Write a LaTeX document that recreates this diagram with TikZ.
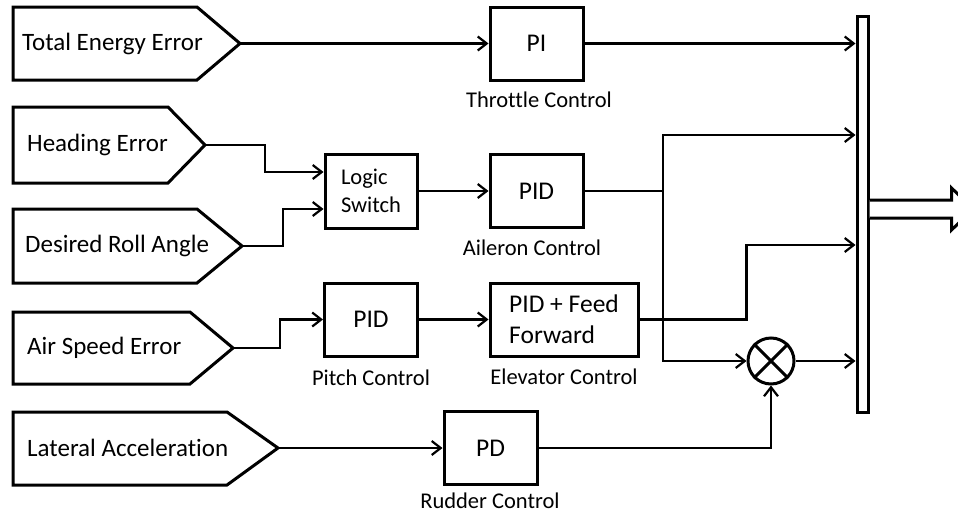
\documentclass[tikz,border=0pt]{standalone}
\usepackage{fontspec}
\setmainfont{Carlito}[Ligatures={NoCommon}]
\usetikzlibrary{arrows.meta}

\begin{document}
\begin{tikzpicture}[x=1pt, y=-1pt, >={Straight Barb[length=9pt,width=14pt]}]
        \tikzstyle{block}=[draw, line width=3pt, minimum width=93pt, minimum height=73pt, font=\fontsize{25.5}{31}\selectfont]
        \tikzstyle{sig}=[draw, line width=3pt]
        \tikzstyle{intext}=[anchor=west, inner sep=0pt, font=\fontsize{25}{30}\selectfont]
        \tikzstyle{caption}=[inner sep=0pt, font=\fontsize{22.5}{27}\selectfont]
        \tikzstyle{wire}=[line width=2.2pt]

        \useasboundingbox (0,0) rectangle (958,514);
        \clip (0,0) rectangle (958,514);

        % input signals
        \draw[sig] (13,7) -- (197,7) -- (240,43.5) -- (197,80) -- (13,80) -- cycle;
        \coordinate (tee) at (240,43.5);
        \node[intext](tee-txt) at (22,43.5){Total Energy Error};

        \draw[sig] (13,107) -- (168,107) -- (205,145) -- (168,183) -- (13,183) -- cycle;
        \coordinate (he) at (205,145);
        \node[intext](he-txt) at (27,145){Heading Error};

        \draw[sig] (13,209) -- (197,209) -- (242,246) -- (197,283) -- (13,283) -- cycle;
        \coordinate (dra) at (242,246);
        \node[intext](dra-txt) at (25,246){Desired Roll Angle};

        \draw[sig] (13,312) -- (190,312) -- (233,348) -- (190,384) -- (13,384) -- cycle;
        \coordinate (ase) at (233,348);
        \node[intext](ase-txt) at (27,348){Air Speed Error};

        \draw[sig] (13,412) -- (227,412) -- (278,448) -- (227,485) -- (13,485) -- cycle;
        \coordinate (lat) at (278,448);
        \node[intext](lat-txt) at (27,448){Lateral Acceleration};

        % controllers
        \node[block](pi) at (536.5,43.5){PI};
        \node[caption](pi-cap) at (539,100){Throttle Control};
        \node[block, minimum width=92pt, minimum height=74pt, align=left, font=\fontsize{22.5}{27.5}\selectfont](sw) at (371,191){Logic\\Switch};
        \node[block](ail) at (536.5,191){PID};
        \node[caption](ail-cap) at (532,248){Aileron Control};
        \node[block](pitch) at (371,319.5){PID};
        \node[caption](pitch-cap) at (371,378){Pitch Control};
        \node[block, minimum width=148pt, align=left](elev) at (564,319.5){PID + Feed\\Forward};
        \node[caption](elev-cap) at (564,377){Elevator Control};
        \node[block](pd) at (490.5,448){PD};
        \node[caption](pd-cap) at (490,501){Rudder Control};

        % product and bus
        \node[draw, circle, line width=3pt, minimum size=46pt, inner sep=0pt](mul) at (771,361){};
        \draw[line width=3pt] (mul.north west) -- (mul.south east) (mul.north east) -- (mul.south west);
        \node[draw, line width=3pt, minimum width=11pt, minimum height=396pt, inner sep=0pt](bus) at (862.5,214){};
        \draw[line width=3pt, fill=white] ([yshift=14pt]bus.east) -- ++(82,0) -- ++(0,-12) -- ++(22,21) -- ++(-22,21) -- ++(0,-12) -- ([yshift=-4pt]bus.east);

        \coordinate (split) at (663,191);

        \draw[wire,->] (tee) -- (pi);
        \draw[wire,->] (pi) -- (pi -| bus.west);
        \draw[wire,->] (he) -- ++(60,0) |- ([yshift=19pt]sw.west);
        \draw[wire,->] (dra) -- ++(41,0) |- ([yshift=-18pt]sw.west);
        \draw[wire,->] (sw) -- (ail);
        \draw[wire] (ail) -- (split);
        \draw[wire,->] (split) |- ([yshift=79pt]bus.west);
        \draw[wire,->] (split) |- (mul);
        \draw[wire,->] (ase) -- ++(47,0) |- (pitch);
        \draw[wire,->] (pitch) -- (elev);
        \draw[wire,->] (elev.east) -- ++(107,0) |- ([yshift=-31pt]bus.west);
        \draw[wire,->] (lat) -- (pd);
        \draw[wire,->] (pd) -| (mul);
        \draw[wire,->] (mul) -- (mul -| bus.west);

        \end{tikzpicture}
\end{document}
